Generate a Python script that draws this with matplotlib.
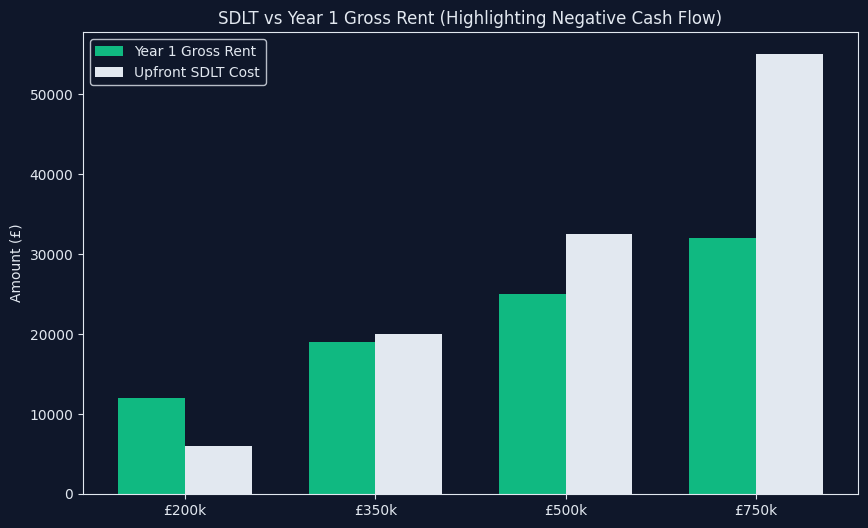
import numpy as np
import matplotlib.pyplot as plt

prices = ['£200k', '£350k', '£500k', '£750k']
gross_rent = [12000, 19000, 25000, 32000]
sdlt_cost = [6000, 20000, 32500, 55000]

bg = '#0f172a'
fg = '#e2e8f0'

fig, ax = plt.subplots(figsize=(8.68, 5.28), dpi=100)
fig.patch.set_facecolor(bg)
ax.set_facecolor(bg)

x = np.arange(len(prices))
w = 0.35
ax.bar(x - w/2, gross_rent, w, color='#10b981', label='Year 1 Gross Rent')
ax.bar(x + w/2, sdlt_cost, w, color=fg, label='Upfront SDLT Cost')

ax.set_xticks(x)
ax.set_xticklabels(prices)
ax.set_ylabel('Amount (£)', color=fg, fontsize=10)
ax.set_title('SDLT vs Year 1 Gross Rent (Highlighting Negative Cash Flow)', color=fg, fontsize=12)
ax.tick_params(colors=fg, labelsize=10)
for s in ax.spines.values():
    s.set_color(fg)

leg = ax.legend(loc='upper left', fontsize=10, facecolor=bg, edgecolor=fg)
for t in leg.get_texts():
    t.set_color(fg)

fig.subplots_adjust(left=0.0956, right=0.9885, top=0.939, bottom=0.0644)
fig.savefig('out.png', facecolor=bg)
